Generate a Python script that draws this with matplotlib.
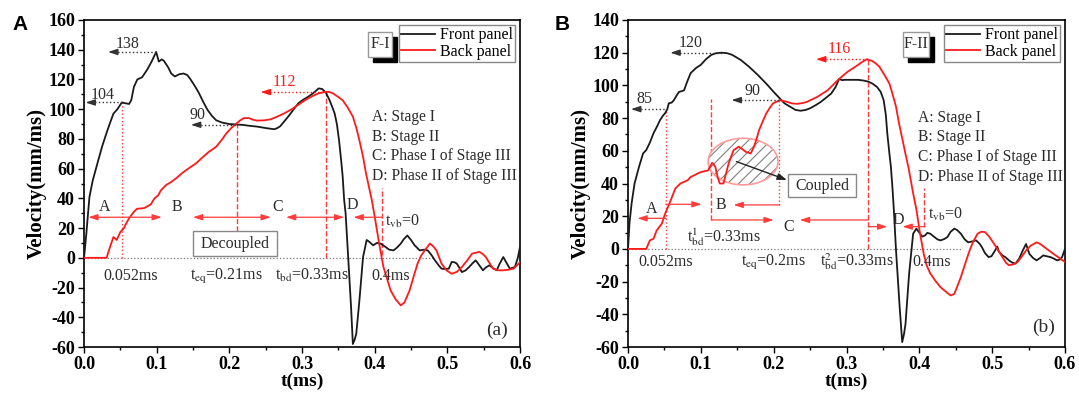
import matplotlib.pyplot as plt
from matplotlib.patches import Ellipse, Rectangle
from matplotlib.ticker import MultipleLocator, FormatStrFormatter

plt.rcParams['font.family'] = ['Liberation Serif', 'DejaVu Serif']
plt.rcParams['mathtext.fontset'] = 'stix'
plt.rcParams['axes.unicode_minus'] = False
plt.rcParams['hatch.linewidth'] = 0.8

# ---- F-I: front / back panel velocity histories ----
t_front_1 = [0.0, 0.003, 0.0075, 0.012, 0.0193, 0.025, 0.031, 0.036, 0.0405, 0.046, 0.052, 0.057, 0.062,
             0.065, 0.0687, 0.0734, 0.080, 0.0875, 0.093, 0.0993, 0.103, 0.107, 0.110, 0.116, 0.120, 0.125,
             0.131, 0.137, 0.142, 0.146, 0.152, 0.158, 0.164, 0.170, 0.176, 0.182, 0.190, 0.200, 0.210,
             0.219, 0.228, 0.238, 0.250, 0.262, 0.266, 0.270, 0.276, 0.281, 0.288, 0.295, 0.302, 0.309,
             0.316, 0.323, 0.328, 0.333, 0.338, 0.342, 0.345, 0.348, 0.351, 0.354, 0.356, 0.358, 0.360,
             0.363, 0.3675, 0.370, 0.3725, 0.3747, 0.379, 0.384, 0.389, 0.392, 0.398, 0.403, 0.408, 0.415,
             0.420, 0.426, 0.431, 0.436, 0.440, 0.445, 0.450, 0.455, 0.462, 0.468, 0.473, 0.478, 0.483,
             0.488, 0.492, 0.497, 0.502, 0.506, 0.510, 0.513, 0.517, 0.520, 0.525, 0.530, 0.535, 0.539,
             0.544, 0.549, 0.553, 0.558, 0.563, 0.568, 0.572, 0.577, 0.581, 0.586, 0.593, 0.597, 0.600]
v_front_1 = [0, 15, 41, 52, 65, 75, 84, 91, 97, 100, 104.5, 104, 103.5,
             106, 115, 120, 121.5, 127, 132, 138.5, 132, 133.5, 132.5, 128, 124, 122,
             123.5, 124, 123, 120.5, 116, 111, 105, 99.5, 95.5, 92.5, 91, 90, 89.7,
             89.4, 88.8, 88.3, 87.3, 86.5, 87.3, 88.5, 92, 95, 99.5, 104, 106.5, 108.5,
             111, 114, 113.5, 111, 106, 101, 97, 90, 79, 65, 54.5, 39, 30,
             5, -33, -58, -55, -51, -28.7, 0.5, 12, 11, 8.4, 10, 9.6, 7.3,
             5.5, 5, 7, 9.6, 12.5, 15, 12, 8.4, 5, 5.5, 5, 2, -1.7,
             -5, -7.3, -7.5, -7.3, -2.8, -3, -3.9, -7, -9.6, -8.5, -6.2, -3.5, -1.7,
             -5, -8.4, -6.5, -5, -7, -8.4, -4, 0.5, -3, -7.3, -6.2, 0, 7.3]

t_back_1 = [0.0, 0.031, 0.0358, 0.0405, 0.045, 0.050, 0.0546, 0.058, 0.0617, 0.0687, 0.073, 0.078, 0.083,
            0.092, 0.097, 0.102, 0.106, 0.113, 0.120, 0.128, 0.135, 0.145, 0.154, 0.163, 0.172, 0.177,
            0.182, 0.189, 0.196, 0.203, 0.210, 0.215, 0.220, 0.227, 0.232, 0.238, 0.248, 0.257, 0.266,
            0.276, 0.286, 0.295, 0.304, 0.313, 0.322, 0.332, 0.337, 0.342, 0.349, 0.356, 0.363, 0.370,
            0.375, 0.379, 0.384, 0.388, 0.392, 0.396, 0.401, 0.406, 0.412, 0.417, 0.422, 0.429, 0.436,
            0.441, 0.448, 0.454, 0.459, 0.464, 0.469, 0.476, 0.480, 0.485, 0.492, 0.499, 0.506, 0.513,
            0.520, 0.527, 0.534, 0.544, 0.549, 0.553, 0.558, 0.563, 0.570, 0.577, 0.584, 0.591, 0.596, 0.600]
v_back_1 = [0, 0, 7.3, 14, 12, 17.4, 19.7, 23, 26.4, 31, 33, 33.2, 33.5,
            36, 40, 42, 45.5, 49, 51, 54, 57, 60.5, 63.5, 67.5, 71.4, 73,
            74.8, 79, 83.8, 87.5, 90.5, 92.5, 94, 94, 93, 92.3, 92.5, 93.2, 95,
            97.3, 100, 103, 106, 108.5, 110.5, 111.7, 111.6, 110.8, 108.5, 106, 101, 95,
            87, 79, 68, 57, 48, 39, 25, 10, -6, -14, -22, -28, -32,
            -30, -22, -12, -3.9, 1.5, 5, 9.6, 8, 5, -3.9, -8.5, -10.7, -9.5,
            -6.2, -2, 2.8, 4, 2.5, 0.5, -3.5, -7.3, -8.4, -8.4, -8, -7.3, -5, -2.8]

# ---- F-II ----
t_front_2 = [0.0, 0.002, 0.005, 0.009, 0.015, 0.0207, 0.025, 0.030, 0.035, 0.040, 0.044, 0.048, 0.051,
             0.054, 0.056, 0.060, 0.063, 0.067, 0.070, 0.074, 0.077, 0.081, 0.086, 0.093, 0.100, 0.107,
             0.1145, 0.121, 0.1286, 0.136, 0.143, 0.155, 0.166, 0.178, 0.190, 0.200, 0.2085, 0.215,
             0.2225, 0.230, 0.237, 0.244, 0.250, 0.258, 0.265, 0.272, 0.279, 0.285, 0.290, 0.294, 0.2976,
             0.306, 0.316, 0.323, 0.330, 0.336, 0.342, 0.347, 0.351, 0.354, 0.356, 0.3585, 0.361, 0.363,
             0.365, 0.368, 0.373, 0.3765, 0.379, 0.381, 0.386, 0.3915, 0.396, 0.401, 0.404, 0.408, 0.411,
             0.415, 0.420, 0.425, 0.429, 0.434, 0.4385, 0.443, 0.448, 0.452, 0.457, 0.462, 0.467, 0.472,
             0.478, 0.483, 0.486, 0.490, 0.495, 0.499, 0.504, 0.507, 0.509, 0.514, 0.518, 0.523, 0.528,
             0.532, 0.537, 0.542, 0.5465, 0.551, 0.556, 0.561, 0.566, 0.570, 0.575, 0.580, 0.585, 0.589,
             0.593, 0.596, 0.600]
v_front_2 = [0, 15.5, 28, 40, 50, 58.4, 60.4, 65, 70.7, 75, 78.8, 81.5, 83,
             85.5, 89, 89.5, 91, 94, 96, 96.5, 97, 102, 107.5, 110.5, 112.6, 116,
             118.7, 119.7, 120, 119.7, 118.7, 115.5, 111.5, 106.5, 101, 96, 92, 89,
             87, 85, 84.5, 85, 86, 88, 90, 92.5, 95, 99, 104, 103.2, 103.4,
             103.4, 103.4, 103, 102.3, 101, 99, 96, 91, 82, 70.7, 60, 50, 38,
             24, -1, -35.7, -57, -52, -46, -15, 9.3, 12.4, 9.3, 7.5, 8.3, 9.8,
             9.3, 7.5, 5.8, 5.2, 6, 7.2, 10.5, 12.4, 11.5, 9.3, 6, 4, 4.5,
             5.2, 3, 1, -2.5, -5, -4.5, -1, 1.5, -1.5, -4, -5, -7, -8.5,
             -9, -6, -1, 3, -3, -5.5, -7, -5.5, -4, -4.5, -5, -6, -7,
             -6.5, -5, 0]

t_back_2 = [0.0, 0.025, 0.030, 0.035, 0.0394, 0.0465, 0.051, 0.058, 0.065, 0.072, 0.082, 0.086, 0.091,
            0.095, 0.100, 0.105, 0.110, 0.1155, 0.118, 0.120, 0.123, 0.126, 0.131, 0.134, 0.138, 0.142,
            0.145, 0.152, 0.157, 0.1615, 0.1686, 0.173, 0.177, 0.180, 0.185, 0.190, 0.195, 0.199, 0.2085,
            0.218, 0.225, 0.232, 0.240, 0.246, 0.253, 0.260, 0.267, 0.274, 0.282, 0.290, 0.296, 0.302,
            0.309, 0.316, 0.322, 0.328, 0.335, 0.340, 0.345, 0.352, 0.359, 0.363, 0.368, 0.372, 0.377,
            0.381, 0.385, 0.3915, 0.396, 0.401, 0.406, 0.410, 0.415, 0.422, 0.429, 0.436, 0.443, 0.448,
            0.452, 0.457, 0.463, 0.469, 0.474, 0.480, 0.485, 0.490, 0.495, 0.4995, 0.507, 0.514, 0.519,
            0.523, 0.529, 0.535, 0.541, 0.5465, 0.553, 0.561, 0.566, 0.572, 0.578, 0.584, 0.592, 0.600]
v_back_2 = [0, 0, 5.2, 6.2, 11.3, 15.5, 21.6, 29, 37, 40, 42, 44, 45,
            46, 47, 47.5, 48, 52.6, 51.5, 50, 44, 40, 40, 45, 52, 57,
            60.4, 62.5, 61, 59.4, 58.4, 62.5, 68, 72.7, 78, 83, 86.5, 89, 91,
            90, 89, 88.7, 89.2, 90, 91.5, 93, 95, 97, 100.5, 104, 106.3, 108.5,
            110.5, 112.6, 114.5, 116, 115, 113.5, 111.5, 106.5, 101, 95, 87, 77, 66.6,
            58, 50, 34, 24, 9.3, -3, -10, -15, -19.5, -23.4, -26, -28.5, -27.5,
            -23, -17.3, -9, -1, 4.5, 9.3, 10.5, 10.3, 8, 5.2, 0, -5, -8.5,
            -10, -9.5, -8, -4.5, -1, 2, 4, 3, 1, -1, -3, -5.5, -8]

stage_lines = ['A: Stage I', 'B: Stage II', 'C: Phase I of Stage III', 'D: Phase II of Stage III']

RED = '#ff1a1a'
RED_ANN = '#ff3b3b'
BLACK = '#1a1a1a'
TXT = '#2b2b2b'


def setup_axes(ax, ymin, ymax):
    ax.set_xlim(0, 0.6)
    ax.set_ylim(ymin, ymax)
    ax.xaxis.set_major_locator(MultipleLocator(0.1))
    ax.xaxis.set_minor_locator(MultipleLocator(0.05))
    ax.yaxis.set_major_locator(MultipleLocator(20))
    ax.yaxis.set_minor_locator(MultipleLocator(10))
    ax.xaxis.set_major_formatter(FormatStrFormatter('%.1f'))
    ax.tick_params(which='both', direction='out', top=False, right=False, width=1.0, pad=2)
    ax.tick_params(which='major', length=4.5, labelsize=13)
    ax.tick_params(which='minor', length=2.5)
    plt.setp(ax.get_xticklabels() + ax.get_yticklabels(), fontweight='bold')
    for sp in ax.spines.values():
        sp.set_linewidth(1.2)
    ax.set_xlabel('t(ms)', fontsize=14, fontweight='bold', labelpad=0)
    ax.set_ylabel('Velocity(mm/ms)', fontsize=15, fontweight='bold', labelpad=1)


def value_arrow(ax, x_tip, x_end, y, color):
    # dotted leader with a small solid head pointing at the axis
    ax.plot([x_tip + 0.008, x_end], [y, y], ls=':', color=color, lw=1.0, zorder=3)
    ax.annotate('', xy=(x_tip, y), xytext=(x_tip + 0.012, y),
                arrowprops=dict(arrowstyle='-|>,head_length=0.55,head_width=0.18',
                                color=color, lw=1.0, shrinkA=0, shrinkB=0))


def harrow(ax, x_from, x_to, y, style='-|>'):
    ax.annotate('', xy=(x_to, y), xytext=(x_from, y),
                arrowprops=dict(arrowstyle=style + ',head_length=0.55,head_width=0.18',
                                color=RED_ANN, lw=0.9, shrinkA=0, shrinkB=0))


def vline(ax, x, y0, y1, ls):
    ax.plot([x, x], [y0, y1], ls=ls, color=RED_ANN, lw=1.0, zorder=1)


def tag_box(ax, x0, x1, y0, y1, text):
    w, h = x1 - x0, y1 - y0
    dx = 0.007
    dy = h * 0.2
    ax.add_patch(Rectangle((x0 + dx, y0 - dy), w, h, facecolor='black', edgecolor='black', zorder=6))
    ax.add_patch(Rectangle((x0, y0), w, h, facecolor='white', edgecolor='#999999', lw=1.0, zorder=7))
    ax.text((x0 + x1) / 2, (y0 + y1) / 2, text, ha='center', va='center', fontsize=11.5,
            color=TXT, zorder=8)


def label_box(ax, x0, x1, y0, y1, text):
    ax.add_patch(Rectangle((x0, y0), x1 - x0, y1 - y0, facecolor='white', edgecolor='#888888',
                           lw=1.0, zorder=4))
    ax.text((x0 + x1) / 2, (y0 + y1) / 2, text, ha='center', va='center', fontsize=11.5,
            color=TXT, zorder=5)


def stage_text(ax, x, ys):
    for line, y in zip(stage_lines, ys):
        ax.text(x, y, line, fontsize=11.2, color=TXT, va='center', ha='left')


fig = plt.figure(figsize=(10.79, 3.97), dpi=100)
ax1 = fig.add_axes([84 / 1079, 1 - 347 / 397, 436 / 1079, 327 / 397])
ax2 = fig.add_axes([628 / 1079, 1 - 347 / 397, 437 / 1079, 327 / 397])

# ================= panel A =================
ax = ax1
setup_axes(ax, -60, 160)
ax.plot([0, 0.48], [0, 0], ls=':', color='#777777', lw=0.9, zorder=1)
ax.plot(t_front_1, v_front_1, color=BLACK, lw=1.3, label='Front panel', zorder=3)
ax.plot(t_back_1, v_back_1, color=RED, lw=1.3, label='Back panel', zorder=3)

vline(ax, 0.052, 0, 104.5, ':')
vline(ax, 0.21, 18, 90, '--')
vline(ax, 0.333, 0, 112, '--')
vline(ax, 0.41, 2, 47, '--')

value_arrow(ax, 0.002, 0.052, 104.5, '#333333')
value_arrow(ax, 0.033, 0.099, 138.5, '#333333')
value_arrow(ax, 0.147, 0.21, 89.5, '#333333')
value_arrow(ax, 0.243, 0.333, 111.5, RED)
ax.text(0.026, 109.5, '104', fontsize=11.5, color=TXT, ha='center', va='center')
ax.text(0.060, 144.0, '138', fontsize=11.5, color=TXT, ha='center', va='center')
ax.text(0.156, 96.0, '90', fontsize=11.5, color=TXT, ha='center', va='center')
ax.text(0.275, 118.0, '112', fontsize=11.5, color=RED, ha='center', va='center')

harrow(ax, 0.006, 0.107, 27.3, '<|-|>')
harrow(ax, 0.150, 0.257, 27.3, '<|-|>')
harrow(ax, 0.278, 0.358, 27.3, '<|-|>')
harrow(ax, 0.41, 0.371, 27.3)
for x, y, s in [(0.029, 34, 'A'), (0.128, 34, 'B'), (0.266, 34, 'C'), (0.369, 35.5, 'D')]:
    ax.text(x, y, s, fontsize=11.5, color=TXT, ha='center', va='center')
ax.text(0.414, 21.5, r't$_{\mathrm{vb}}$=0', fontsize=11.5, color=TXT, ha='left', va='baseline')

label_box(ax, 0.15, 0.266, 1, 18, 'Decoupled')

ax.text(0.064, -15, '0.052ms', fontsize=11.5, color=TXT, ha='center', va='baseline')
ax.text(0.196, -15, r't$_{\mathrm{eq}}$=0.21ms', fontsize=11.5, color=TXT, ha='center', va='baseline')
ax.text(0.313, -15, r't$_{\mathrm{bd}}$=0.33ms', fontsize=11.5, color=TXT, ha='center', va='baseline')
ax.text(0.422, -15, '0.4ms', fontsize=11.5, color=TXT, ha='center', va='baseline')

stage_text(ax, 0.396, [95, 81.5, 68.5, 55.3])
tag_box(ax, 0.391, 0.4235, 135.3, 152, 'F-I')
ax.text(0.568, -49, '(a)', fontsize=14, color=TXT, ha='center', va='center')

# ================= panel B =================
ax = ax2
setup_axes(ax, -60, 140)
ax.plot([0, 0.457], [0, 0], ls=':', color='#777777', lw=0.9, zorder=1)
ax.add_patch(Ellipse((0.158, 53.4), 0.096, 28.5, facecolor='white', edgecolor='#808080',
                     hatch='///', lw=0, zorder=2))
ax.add_patch(Ellipse((0.158, 53.4), 0.096, 28.5, facecolor='none', edgecolor='#ff9a9a',
                     lw=1.2, zorder=2))
ax.plot(t_front_2, v_front_2, color=BLACK, lw=1.3, label='Front panel', zorder=3)
ax.plot(t_back_2, v_back_2, color=RED, lw=1.3, label='Back panel', zorder=3)

vline(ax, 0.052, 0, 85.5, ':')
vline(ax, 0.1145, 17.7, 91.5, '--')
vline(ax, 0.2075, 26.9, 91, ':')
vline(ax, 0.33, 0, 116, '--')
vline(ax, 0.407, 13.6, 37, '--')

value_arrow(ax, 0.004, 0.052, 85.5, '#333333')
value_arrow(ax, 0.058, 0.1286, 120, '#333333')
value_arrow(ax, 0.142, 0.2075, 91, '#333333')
value_arrow(ax, 0.258, 0.33, 116, RED)
ax.text(0.023, 91.5, '85', fontsize=11.5, color=TXT, ha='center', va='center')
ax.text(0.086, 126.0, '120', fontsize=11.5, color=TXT, ha='center', va='center')
ax.text(0.171, 96.5, '90', fontsize=11.5, color=TXT, ha='center', va='center')
ax.text(0.290, 122.5, '116', fontsize=11.5, color=RED, ha='center', va='center')

harrow(ax, 0.052, 0.013, 18.7)
harrow(ax, 0.052, 0.101, 27.3)
harrow(ax, 0.2075, 0.145, 26.9)
harrow(ax, 0.1145, 0.200, 17.7)
harrow(ax, 0.33, 0.236, 17.7)
harrow(ax, 0.33, 0.356, 13.6)
harrow(ax, 0.407, 0.377, 13.6)
for x, y, s in [(0.032, 24.5, 'A'), (0.127, 27, 'B'), (0.221, 13.5, 'C'), (0.371, 17.5, 'D')]:
    ax.text(x, y, s, fontsize=11.5, color=TXT, ha='center', va='center')
ax.text(0.412, 18.5, r't$_{\mathrm{vb}}$=0', fontsize=11.5, color=TXT, ha='left', va='baseline')

ax.annotate('', xy=(0.218, 42.2), xytext=(0.149, 53.4),
            arrowprops=dict(arrowstyle='-|>,head_length=0.55,head_width=0.2', color='#222222',
                            lw=1.0, shrinkA=0, shrinkB=0), zorder=4)
label_box(ax, 0.22, 0.313, 31.6, 45.9, 'Coupled')

ax.text(0.0513, -10.5, '0.052ms', fontsize=11.5, color=TXT, ha='center', va='baseline')
ax.text(0.132, 4.5, r't$^{\mathrm{1}}_{\mathrm{bd}}$=0.33ms', fontsize=11.5, color=TXT, ha='center',
        va='baseline')
ax.text(0.200, -10.5, r't$_{\mathrm{eq}}$=0.2ms', fontsize=11.5, color=TXT, ha='center', va='baseline')
ax.text(0.314, -10.5, r't$^{\mathrm{2}}_{\mathrm{bd}}$=0.33ms', fontsize=11.5, color=TXT, ha='center',
        va='baseline')
ax.text(0.417, -10.5, '0.4ms', fontsize=11.5, color=TXT, ha='center', va='baseline')

stage_text(ax, 0.3986, [79.9, 68.2, 56.4, 44.2])
tag_box(ax, 0.3775, 0.4127, 117.5, 132.8, 'F-II')
ax.text(0.57, -48, '(b)', fontsize=14, color=TXT, ha='center', va='center')

for ax in (ax1, ax2):
    leg = ax.legend(loc='upper right', fontsize=11.5, frameon=True, fancybox=False, edgecolor='#888888',
                    borderaxespad=0.3, borderpad=0.15, labelspacing=0.05, handlelength=2.1,
                    handletextpad=0.3, framealpha=1)
    leg.get_frame().set_linewidth(1.0)
    leg.set_zorder(5)

fig.text(20 / 1079, 1 - 24 / 397, 'A', fontsize=15, fontweight='bold', family='Liberation Sans',
         ha='center', va='center')
fig.text(562 / 1079, 1 - 24 / 397, 'B', fontsize=15, fontweight='bold', family='Liberation Sans',
         ha='center', va='center')

fig.savefig('out.png', dpi=100)
